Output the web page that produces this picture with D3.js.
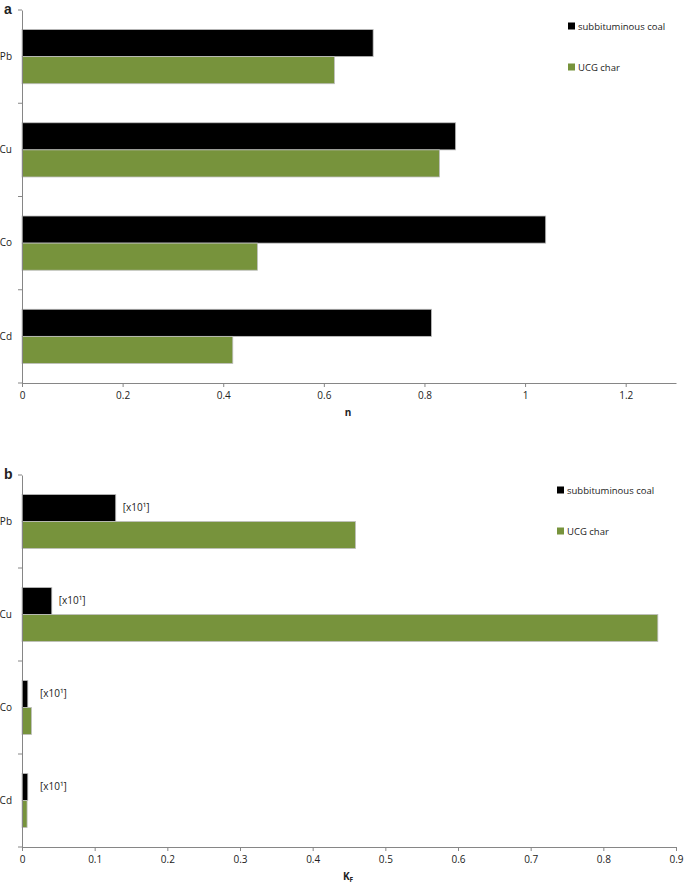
<!DOCTYPE html>
<html>
<head>
<meta charset="utf-8">
<script src="https://cdn.jsdelivr.net/npm/d3@7"></script>
<style>
  body { margin: 0; background: #fff; }
  svg text { font-family: "Open Sans", "Liberation Sans", sans-serif; fill: #222; }
</style>
</head>
<body>
<div id="chart"></div>
<script>
// values
const categories = ["Pb", "Cu", "Co", "Cd"];
const seriesNames = ["subbituminous coal", "UCG char"];
const seriesColors = ["#000000", "#77933c"];

const nCoal = [0.698, 0.862, 1.041, 0.814];
const nChar = [0.621, 0.830, 0.468, 0.419];
const nTicks = [0, 0.2, 0.4, 0.6, 0.8, 1, 1.2];

const kfCoal = [0.129, 0.041, 0.008, 0.008];
const kfChar = [0.459, 0.875, 0.013, 0.007];
const kfTicks = [0, 0.1, 0.2, 0.3, 0.4, 0.5, 0.6, 0.7, 0.8, 0.9];
const kfNote = "[x10\u00b9]";

const W = 685, H = 886;
const svg = d3.select("#chart").append("svg").attr("width", W).attr("height", H);

function drawPanel(opts)
{
    const { letter, top, bottom, xMax, ticks, coal, char, title, sub, legendX, legendY, note } = opts;
    const g = svg.append("g");
    const x = d3.scaleLinear().domain([0, xMax]).range([22, 676]);
    const y = d3.scaleBand().domain(categories).range([top, bottom]).padding(0);
    const inner = d3.scaleBand().domain(seriesNames).range([0, y.bandwidth()])
        .paddingInner(0).paddingOuter(0.72);

    const rows = categories.map((c, i) => ({ cat: c, vals: [coal[i], char[i]] }));

    // bars
    const grp = g.selectAll("g.cat").data(rows).enter().append("g")
        .attr("class", "cat")
        .attr("transform", d => `translate(0,${y(d.cat)})`);
    grp.selectAll("rect").data(d => d.vals.map((v, k) => ({ v, k }))).enter().append("rect")
        .attr("x", x(0))
        .attr("y", d => inner(seriesNames[d.k]))
        .attr("width", d => x(d.v) - x(0))
        .attr("height", inner.bandwidth())
        .attr("fill", d => seriesColors[d.k])
        .attr("stroke", "#bfbfbf").attr("stroke-width", 0.8);

    // notes next to the coal bars
    if (note) {
        grp.append("text")
            .attr("x", d => Math.max(x(d.vals[0]) + 7, x(0) + 18))
            .attr("y", d => inner(seriesNames[0]) + inner.bandwidth() / 2 + 3)
            .attr("font-size", 10)
            .text(note);
    }

    // x axis
    const xa = g.append("g").attr("transform", `translate(0,${bottom})`)
        .call(d3.axisBottom(x).tickValues(ticks).tickSize(4).tickSizeOuter(0).tickFormat(d => String(d)));
    xa.select(".domain").attr("stroke", "#868686");
    xa.selectAll(".tick line").attr("stroke", "#868686");
    xa.selectAll(".tick text").attr("font-size", 10).attr("dy", "0.9em")
        .style("font-family", "'Open Sans', sans-serif").attr("fill", "#222");

    // y axis: line, ticks on band edges, labels in the middle
    const ya = g.append("g").attr("transform", `translate(${x(0)},0)`)
        .call(d3.axisLeft(y).tickSize(0).tickPadding(10));
    ya.select(".domain").attr("stroke", "#868686");
    ya.selectAll(".tick text").attr("font-size", 10)
        .style("font-family", "'Open Sans', sans-serif").attr("fill", "#222");
    const edges = categories.map(c => y(c)).concat([bottom]);
    g.selectAll("line.ytick").data(edges).enter().append("line")
        .attr("x1", x(0) - 4).attr("x2", x(0))
        .attr("y1", d => d).attr("y2", d => d)
        .attr("stroke", "#868686");

    // axis title
    const t = g.append("text")
        .attr("x", (x(0) + x(xMax)) / 2 - 1)
        .attr("y", bottom + 33)
        .attr("text-anchor", "middle")
        .attr("font-size", 10).attr("font-weight", "bold")
        .text(title);
    if (sub) {
        t.append("tspan").attr("font-size", 6.5).attr("dy", 2).text(sub);
    }

    // panel letter
    g.append("text").attr("x", 4).attr("y", top + 4)
        .style("font-family", "'Liberation Sans', Arial, sans-serif")
        .attr("font-size", 14).attr("font-weight", "bold")
        .text(letter);

    // legend
    const lg = g.selectAll("g.leg").data(seriesNames).enter().append("g")
        .attr("class", "leg")
        .attr("transform", (d, i) => `translate(${legendX},${legendY + i * 41})`);
    lg.append("rect").attr("x", 0).attr("y", -3.5).attr("width", 7).attr("height", 7)
        .attr("fill", (d, i) => seriesColors[i]);
    lg.append("text").attr("x", 10).attr("y", 3.5).attr("font-size", 9.5).text(d => d);
}

drawPanel({ letter: "a", top: 10, bottom: 383, xMax: 1.3, ticks: nTicks,
            coal: nCoal, char: nChar, title: "n", sub: null,
            legendX: 568, legendY: 26, note: null });

drawPanel({ letter: "b", top: 475, bottom: 847, xMax: 0.9, ticks: kfTicks,
            coal: kfCoal, char: kfChar, title: "K", sub: "F",
            legendX: 557, legendY: 490, note: kfNote });
</script>
</body>
</html>
